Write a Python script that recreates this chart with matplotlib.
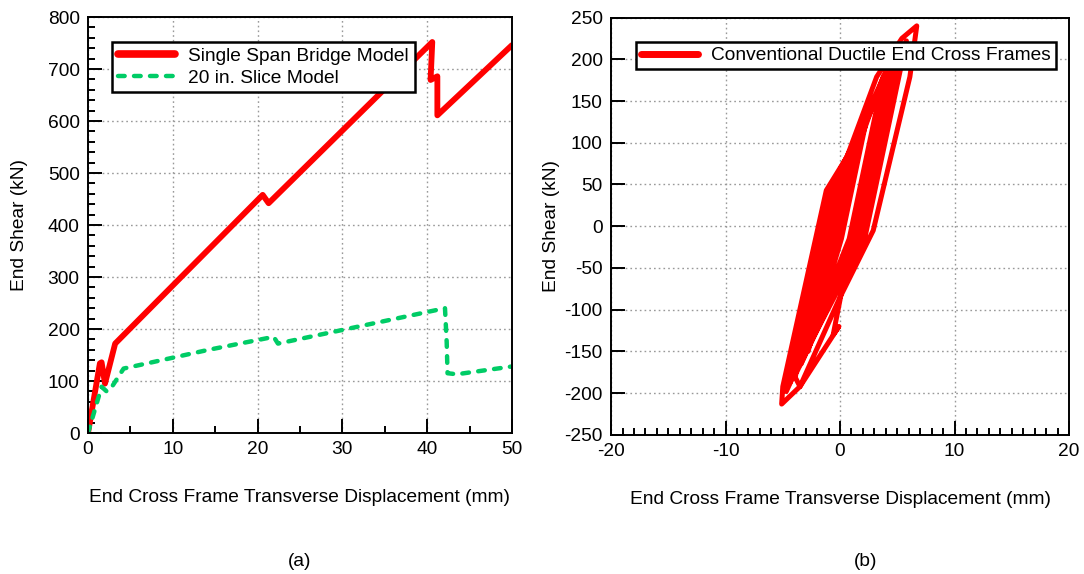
import matplotlib
matplotlib.use("Agg")
import matplotlib.pyplot as plt
from matplotlib.ticker import MultipleLocator

plt.rcParams['font.family'] = ['Liberation Sans', 'DejaVu Sans']
plt.rcParams['font.size'] = 13.75
plt.rcParams['axes.unicode_minus'] = False

RED = '#ff0000'
GREEN = '#00cc66'
FS = 13.75

# (a) single span bridge vs. 20 in. slice model
bridge_disp = [0.0, 1.4, 1.6, 2.0, 3.2, 20.6, 21.3, 40.6, 40.4, 41.2, 41.2, 50.0]
bridge_shear = [0, 134, 136, 95, 172, 458, 442, 752, 679, 686, 611, 746]

slice_disp = [0.0, 1.6, 2.2, 2.7, 4.2, 14.2, 21.9, 22.4, 42.1, 42.3, 42.4, 43.5, 50.0]
slice_shear = [0, 89, 80, 86, 124, 160, 185, 172, 240, 175, 115, 113, 128]

# (b) cyclic response of conventional ductile end cross frames
cyc_disp = [0.0, 0.8, -0.28, -1.5, 0.5, 2.5, 0.12, -2.8, 0.12, 3.8, 0.8, -3.6,
            -0.4, 4.4, 1.17, -4.0, -0.65, 5.0, 1.57, -3.4, -0.25, 4.2, 1.05, -4.4,
            -0.89, 5.4, 1.86, -3.8, -0.49, 4.7, 1.39, -4.7, -1.04, 5.8, 2.15, -4.2,
            -0.78, 4.0, 0.92, 0.0, -0.6, -0.1, -3.5, -5.1, -5.0, -1.2, 0.6, 3.2,
            5.4, 6.7, 6.1, 2.9, 0.0, -3.5, -4.1, -3.9, -1.0, 1.5]
cyc_shear = [0, 55, -15, -90, 40, 140, -15, -150, 40, 180, -15, -168,
             40, 195, -15, -178, 40, 208, -15, -165, 40, 190, -15, -188,
             40, 215, -15, -175, 40, 200, -15, -198, 40, 222, -15, -182,
             40, 185, -15, -88, -130, -120, -192, -213, -192, 43, 83, 179,
             225, 240, 179, -5, -85, -192, -176, -180, 35, 100]

fig = plt.figure(figsize=(10.84, 5.74), dpi=100)
ax1 = fig.add_axes([0.0812, 0.2456, 0.3911, 0.7247])
ax2 = fig.add_axes([0.5637, 0.2422, 0.4225, 0.7273])


def style_axes(ax):
    for s in ax.spines.values():
        s.set_linewidth(1.4)
    ax.tick_params(which='both', direction='in', top=False, right=False,
                   width=1.4, labelsize=FS)
    ax.tick_params(which='major', length=10, pad=6)
    ax.tick_params(which='minor', length=5)
    ax.grid(True, which='major', linestyle=(0, (1.2, 2.2)), color='#999999',
            linewidth=1.0)
    ax.set_axisbelow(True)


# plot (a)
ax1.plot(bridge_disp, bridge_shear, color=RED, lw=4.2, solid_joinstyle='round',
         solid_capstyle='round', label='Single Span Bridge Model')
ax1.plot(slice_disp, slice_shear, color=GREEN, lw=3.2, dashes=(1.5, 2.1),
         dash_capstyle='round', label='20 in. Slice Model')
ax1.set_xlim(0, 50)
ax1.set_ylim(0, 800)
ax1.xaxis.set_major_locator(MultipleLocator(10))
ax1.xaxis.set_minor_locator(MultipleLocator(5))
ax1.yaxis.set_major_locator(MultipleLocator(100))
ax1.yaxis.set_minor_locator(MultipleLocator(20))
style_axes(ax1)
ax1.set_xlabel('End Cross Frame Transverse Displacement (mm)', fontsize=FS,
               labelpad=22)
ax1.set_ylabel('End Shear (kN)', fontsize=FS)
ax1.yaxis.set_label_coords(-0.1415, 0.5)
leg1 = ax1.legend(loc='upper left', bbox_to_anchor=(0.0566, 0.94),
                  borderaxespad=0, fancybox=False, framealpha=1,
                  edgecolor='black', handlelength=3.0, handletextpad=0.7,
                  borderpad=0.3, labelspacing=0.22, fontsize=FS)
leg1.get_frame().set_linewidth(1.8)
leg1.get_lines()[0].set_linewidth(5.5)

# plot (b)
ax2.plot(cyc_disp, cyc_shear, color=RED, lw=3.6, solid_joinstyle='round',
         solid_capstyle='round', label='Conventional Ductile End Cross Frames')
ax2.set_xlim(-20, 20)
ax2.set_ylim(-250, 250)
ax2.xaxis.set_major_locator(MultipleLocator(10))
ax2.xaxis.set_minor_locator(MultipleLocator(1))
ax2.yaxis.set_major_locator(MultipleLocator(50))
style_axes(ax2)
ax2.set_xlabel('End Cross Frame Transverse Displacement (mm)', fontsize=FS,
               labelpad=22)
ax2.set_ylabel('End Shear (kN)', fontsize=FS)
ax2.yaxis.set_label_coords(-0.1114, 0.5)
leg2 = ax2.legend(loc='upper left', bbox_to_anchor=(0.0546, 0.941),
                  borderaxespad=0, fancybox=False, framealpha=1,
                  edgecolor='black', handlelength=3.0, handletextpad=0.7,
                  borderpad=0.25, fontsize=FS)
leg2.get_frame().set_linewidth(1.8)
leg2.get_lines()[0].set_linewidth(5.0)

fig.text(300 / 1084, 1 - 562 / 574, '(a)', ha='center', va='center', fontsize=FS)
fig.text(866 / 1084, 1 - 562 / 574, '(b)', ha='center', va='center', fontsize=FS)

fig.savefig('out.png', dpi=100)
